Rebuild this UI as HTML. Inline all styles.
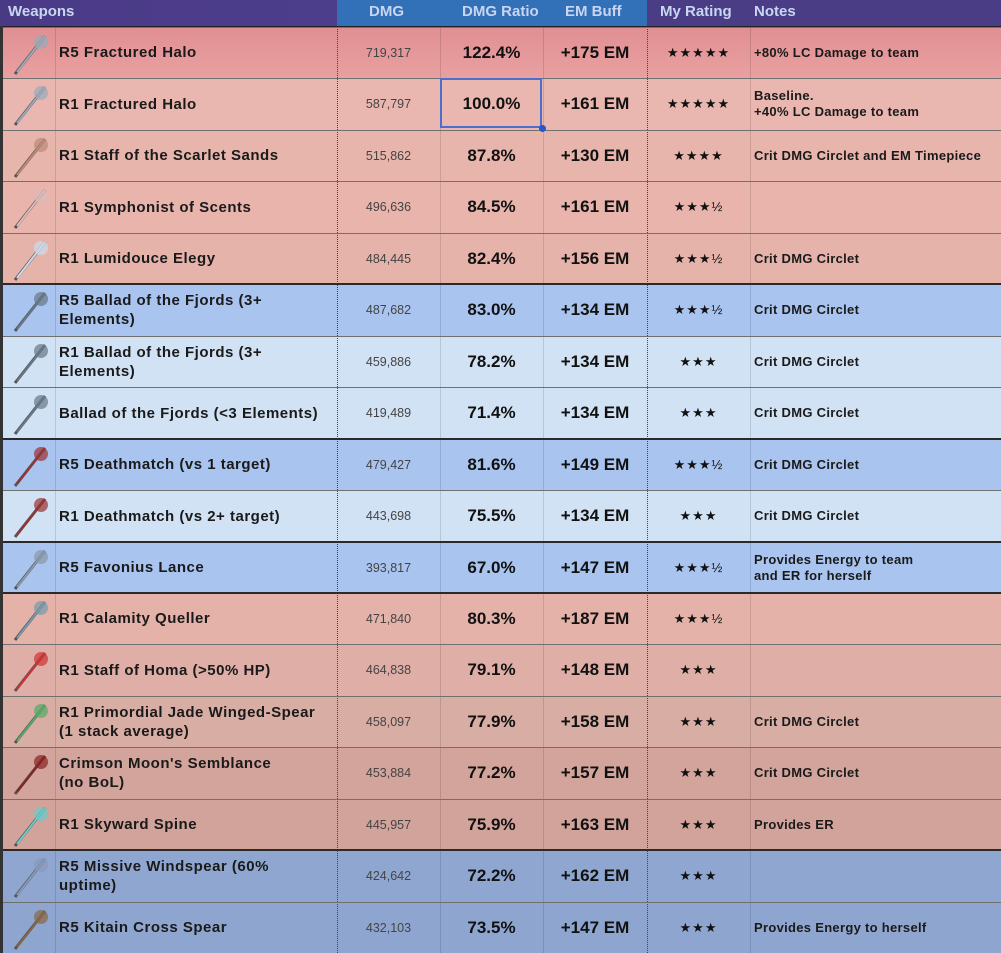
<!DOCTYPE html>
<html><head><meta charset="utf-8"><style>
body{margin:0;width:1001px;height:953px;overflow:hidden;background:#222;font-family:"Liberation Sans",sans-serif;}
#t{position:relative;width:1001px;height:953px;}
.hd{position:absolute;top:0;height:26px;}
.ht{position:absolute;top:3px;font-weight:bold;font-size:15px;color:#c9d6f2;}
.row{position:absolute;left:3px;width:998px;box-sizing:border-box;}
.hl{position:absolute;left:0;width:998px;height:1px;background:#707070}
.c{position:absolute;top:0;height:100%;display:flex;align-items:center;box-sizing:border-box;}
.nm{left:52px;width:282px;padding-left:4px;font-weight:bold;font-size:15px;color:#1a1a1a;line-height:19px;letter-spacing:.5px}
.dm{left:334px;width:103px;justify-content:center;font-size:12.5px;color:#444;}
.ra{left:437px;width:103px;justify-content:center;font-size:17px;color:#111;font-weight:bold}
.em{left:540px;width:104px;justify-content:center;font-size:17px;color:#111;font-weight:bold}
.st{left:644px;width:103px;justify-content:center;font-size:13px;color:#111;letter-spacing:1px}
.nt{left:747px;width:251px;padding-left:4px;font-size:13px;color:#1a1a1a;line-height:16px;font-weight:bold;letter-spacing:.3px}
.vl{position:absolute;top:0;height:100%;width:1px;background:rgba(0,0,0,.12)}
.vd{position:absolute;top:0;height:100%;width:0;border-left:1px dotted #444}
</style></head><body>
<div id="t">
<div class="hd" style="left:0;width:337px;background:linear-gradient(90deg,#4a3a86,#4d3e8c)"><span class="ht" style="left:8px">Weapons</span></div>
<div class="hd" style="left:337px;width:310px;background:#3270b8">
<span class="ht" style="left:32px">DMG</span><span class="ht" style="left:125px">DMG Ratio</span><span class="ht" style="left:228px">EM Buff</span></div>
<div class="hd" style="left:647px;width:354px;background:#4a3d86">
<span class="ht" style="left:13px">My Rating</span><span class="ht" style="left:107px">Notes</span></div>
<div style="position:absolute;left:0;top:26px;width:1001px;height:2px;background:#222"></div>
<div style="position:absolute;left:0;top:26px;width:3px;height:927px;background:#333"></div>
</div>
<script>
const names=["R5 Fractured Halo","R1 Fractured Halo","R1 Staff of the Scarlet Sands","R1 Symphonist of Scents","R1 Lumidouce Elegy","R5 Ballad of the Fjords (3+<br>Elements)","R1 Ballad of the Fjords (3+<br>Elements)","Ballad of the Fjords (&lt;3 Elements)","R5 Deathmatch (vs 1 target)","R1 Deathmatch (vs 2+ target)","R5 Favonius Lance","R1 Calamity Queller","R1 Staff of Homa (&gt;50% HP)","R1 Primordial Jade Winged-Spear<br>(1 stack average)","Crimson Moon's Semblance<br>(no BoL)","R1 Skyward Spine","R5 Missive Windspear (60%<br>uptime)","R5 Kitain Cross Spear"];
const dmg=[719317,587797,515862,496636,484445,487682,459886,419489,479427,443698,393817,471840,464838,458097,453884,445957,424642,432103];
const ratio=[122.4,100.0,87.8,84.5,82.4,83.0,78.2,71.4,81.6,75.5,67.0,80.3,79.1,77.9,77.2,75.9,72.2,73.5];
const emBuff=[175,161,130,161,156,134,134,134,149,134,147,187,148,158,157,163,162,147];
const ratings=["★★★★★","★★★★★","★★★★","★★★½","★★★½","★★★½","★★★","★★★","★★★½","★★★","★★★½","★★★½","★★★","★★★","★★★","★★★","★★★","★★★"];
const notes=["+80% LC Damage to team","Baseline.<br>+40% LC Damage to team","Crit DMG Circlet and EM Timepiece","","Crit DMG Circlet","Crit DMG Circlet","Crit DMG Circlet","Crit DMG Circlet","Crit DMG Circlet","Crit DMG Circlet","Provides Energy to team<br>and ER for herself","","","Crit DMG Circlet","Crit DMG Circlet","Provides ER","","Provides Energy to herself"];
const colors=["#e69a9b","#e9b7af","#e8b5ac","#e8b4ac","#e6b3ab","#a9c4ef","#d1e2f4","#d1e2f4","#a9c4ef","#d1e2f4","#a9c4ef","#e5b2a9","#dfaea6","#d8ada4","#d3a49c","#d2a39b","#8fa7d0","#8ea6cf"];
const iconCol=["#9ab","#9ab","#b87","#dbb","#cde","#678","#678","#678","#933","#933","#89a","#79a","#c33","#5a6","#822","#6cc","#89b","#864"];
const t=document.getElementById('t');
const top0=27,rh=51.45;
names.forEach((n,i)=>{
 const r=document.createElement('div');
 
 
 r.className='row';
 const y0=Math.round(top0+i*rh),y1=Math.round(top0+(i+1)*rh);
 r.style.top=y0+'px';r.style.height=(y1-y0)+'px';
 r.style.background=i==0?'linear-gradient(#e08f93,#e9a0a0)':colors[i];
 const thick=[5,8,10,11,16].includes(i);
 r.innerHTML=`<div class="vl" style="left:52px"></div><div class="vd" style="left:334px"></div><div class="vl" style="left:437px"></div><div class="vl" style="left:540px"></div><div class="vd" style="left:644px"></div><div class="vl" style="left:747px"></div>
<svg style="position:absolute;left:6px;top:3px" width="44" height="46"><line x1="6" y1="44" x2="36" y2="6" stroke="#555" stroke-width="3"/><line x1="8" y1="42" x2="36" y2="6" stroke="${iconCol[i]}" stroke-width="2"/><circle cx="32" cy="12" r="7" fill="${iconCol[i]}" opacity=".7"/></svg>
<div class="c nm">${n}</div><div class="c dm">${dmg[i].toLocaleString('en-US')}</div><div class="c ra">${ratio[i].toFixed(1)}%</div><div class="c em">+${emBuff[i]} EM</div><div class="c st">${ratings[i]}</div><div class="c nt">${notes[i]}</div>
<div class="hl" style="top:${thick?-1:0}px;height:${thick?2:1}px;background:${thick?'#2a2a2a':'#707070'}"></div>`;
 t.appendChild(r);
 const parts=['weapon-icon','weapon-name','dmg-value','dmg-ratio','em-buff','rating-stars','notes-cell'];
 [r.querySelector('svg'),...r.querySelectorAll('.c')].forEach((el,k)=>{
  
  
 });
});
const sel=document.createElement('div');


sel.style.cssText='position:absolute;left:440px;top:78px;width:102px;height:50px;border:2px solid #4a6fd0;box-sizing:border-box';
t.appendChild(sel);
const dot=document.createElement('div');


dot.style.cssText='position:absolute;left:539px;top:125px;width:7px;height:7px;border-radius:50%;background:#2457c8';
t.appendChild(dot);
</script>
</body></html>
